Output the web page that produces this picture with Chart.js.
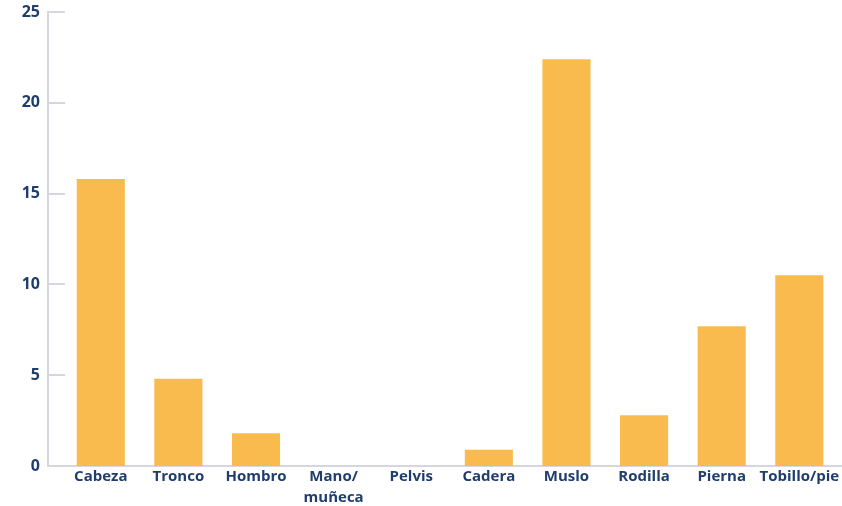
<!DOCTYPE html>
<html>
<head>
<meta charset="utf-8">
<script src="https://cdn.jsdelivr.net/npm/chart.js@4"></script>
<style>
    html, body { margin: 0; padding: 0; background: #fff; }
    #wrap { width: 842px; height: 506px; position: relative; }
</style>
</head>
<body>
<div id="wrap"><canvas id="myChart"></canvas></div>
<script>
const labels = ['Cabeza', 'Tronco', 'Hombro', ['Mano/', 'muñeca'], 'Pelvis', 'Cadera', 'Muslo', 'Rodilla', 'Pierna', 'Tobillo/pie'];
const values = [15.8, 4.8, 1.8, 0, 0, 0.9, 22.4, 2.8, 7.7, 10.5];
const yTicks = [0, 5, 10, 15, 20, 25];

const navy = '#1f3d6e';
const axisGrey = '#d6d7de';
const barColor = '#fabb4e';

// ticks cortos hacia dentro del area, como en el original
const innerTicks = {
    id: 'innerTicks',
    afterDraw(chart) {
        const y = chart.scales.y;
        const ctx = chart.ctx;
        ctx.save();
        ctx.strokeStyle = axisGrey;
        ctx.lineWidth = 2;
        yTicks.forEach(v => {
            const py = Math.round(y.getPixelForValue(v));
            ctx.beginPath();
            ctx.moveTo(y.right, py);
            ctx.lineTo(y.right + 17, py);
            ctx.stroke();
        });
        ctx.restore();
    }
};

new Chart(document.getElementById('myChart').getContext('2d'), {
    type: 'bar',
    data: {
        datasets: [{
            data: values.map((v, i) => ({ x: i, y: v })),
            backgroundColor: barColor,
            borderWidth: 0,
            barPercentage: 0.62,
            categoryPercentage: 1
        }]
    },
    options: {
        animation: false,
        responsive: true,
        maintainAspectRatio: false,
        layout: { padding: { top: 12, right: 0, left: 0, bottom: 0 } },
        plugins: { legend: { display: false }, tooltip: { enabled: false } },
        scales: {
            x: {
                type: 'linear',
                offset: false,
                min: -0.68,
                max: 9.55,
                grid: { display: false, drawTicks: false },
                border: { display: true, color: axisGrey, width: 2 },
                afterBuildTicks: s => { s.ticks = labels.map((_, i) => ({ value: i })); },
                afterFit: s => { s.height = 40; s.paddingLeft = 0; s.paddingRight = 0; },
                ticks: {
                    autoSkip: false,
                    maxRotation: 0,
                    padding: 1,
                    color: navy,
                    font: { family: 'Open Sans', size: 15, weight: '700', lineHeight: 1.35 },
                    callback: v => labels[v]
                }
            },
            y: {
                min: 0,
                max: 25,
                grid: { display: false, drawTicks: false },
                border: { display: true, color: axisGrey, width: 2 },
                afterBuildTicks: s => { s.ticks = yTicks.map(v => ({ value: v })); },
                afterFit: s => { s.width = 48; s.paddingTop = 0; s.paddingBottom = 0; },
                ticks: {
                    padding: 8,
                    color: navy,
                    font: { family: 'Open Sans', size: 16, weight: '700', lineHeight: 1 }
                }
            }
        }
    },
    plugins: [innerTicks]
});
</script>
</body>
</html>
